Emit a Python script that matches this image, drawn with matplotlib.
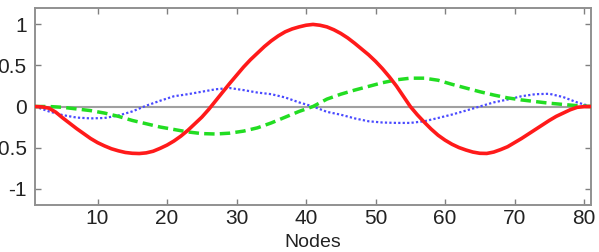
import matplotlib
matplotlib.use("Agg")
import matplotlib.pyplot as plt

plt.rcParams['font.family'] = ['Liberation Sans', 'DejaVu Sans']
plt.rcParams['axes.unicode_minus'] = False

red_nodes = list(range(1, 82))
red_vals = [0.0, -0.005, -0.02, -0.07, -0.14, -0.205, -0.27, -0.33, -0.39, -0.44,
            -0.48, -0.515, -0.54, -0.56, -0.57, -0.573, -0.565, -0.545, -0.51, -0.47,
            -0.42, -0.36, -0.29, -0.21, -0.13, -0.035, 0.07, 0.175, 0.28, 0.38,
            0.48, 0.57, 0.65, 0.73, 0.80, 0.86, 0.91, 0.945, 0.97, 0.99,
            1.0, 0.99, 0.97, 0.935, 0.89, 0.835, 0.77, 0.70, 0.63, 0.55,
            0.46, 0.36, 0.25, 0.125, 0.0, -0.1, -0.19, -0.275, -0.35, -0.41,
            -0.46, -0.50, -0.53, -0.555, -0.57, -0.572, -0.555, -0.525, -0.49, -0.44,
            -0.39, -0.335, -0.28, -0.225, -0.17, -0.12, -0.08, -0.04, -0.01, -0.002,
            0.0]

nodes = list(range(1, 82, 2))

green_vals = [0.0, 0.0, -0.01, -0.03, -0.05, -0.08, -0.12, -0.17, -0.21, -0.25,
              -0.28, -0.31, -0.33, -0.335, -0.325, -0.30, -0.26, -0.20, -0.13, -0.06,
              0.0, 0.09, 0.15, 0.20, 0.245, 0.29, 0.325, 0.345, 0.345, 0.32,
              0.27, 0.225, 0.18, 0.14, 0.105, 0.08, 0.06, 0.04, 0.025, 0.01,
              0.0]

blue_vals = [0.0, -0.06, -0.105, -0.135, -0.145, -0.14, -0.11, -0.06, 0.01, 0.07,
             0.125, 0.15, 0.18, 0.21, 0.225, 0.20, 0.17, 0.15, 0.11, 0.05,
             0.0, -0.065, -0.10, -0.145, -0.18, -0.195, -0.20, -0.20, -0.18, -0.14,
             -0.098, -0.05, 0.0, 0.05, 0.085, 0.125, 0.15, 0.155, 0.115, 0.05,
             0.0]

x_ticks = [10, 20, 30, 40, 50, 60, 70, 80]
y_ticks = [-1, -0.5, 0, 0.5, 1]
y_tick_labels = ['-1', '-0.5', '0', '0.5', '1']

fig = plt.figure(figsize=(5.99, 2.52), dpi=100)
ax = fig.add_axes([35/599, 1 - 205/252, (591 - 35)/599, (205 - 8)/252])

ax.axhline(0, color='#a0a0a0', lw=1.5, zorder=1)
ax.plot(nodes, blue_vals, color='#4a4aff', lw=1.6, linestyle=(0, (1, 1)), zorder=2)
ax.plot(nodes, green_vals, color='#22dd22', lw=2.5, linestyle=(0, (3, 1.5)), zorder=3)
ax.plot(red_nodes, red_vals, color='#ff1a1a', lw=2.6, zorder=4)

ax.set_xlim(1, 81)
ax.set_ylim(-1.2, 1.2)
ax.set_xticks(x_ticks)
ax.set_yticks(y_ticks)
ax.set_yticklabels(y_tick_labels)
ax.tick_params(direction='in', length=4, width=1, color='#808080',
               top=True, right=True, labelsize=15, labelcolor='#222222')
ax.tick_params(axis='y', pad=6)
ax.tick_params(axis='x', pad=3)
for s in ax.spines.values():
    s.set_color('#909090')
    s.set_linewidth(1.4)
ax.set_xlabel('Nodes', fontsize=14, color='#222222', labelpad=4)

fig.savefig('out.png', dpi=100)
